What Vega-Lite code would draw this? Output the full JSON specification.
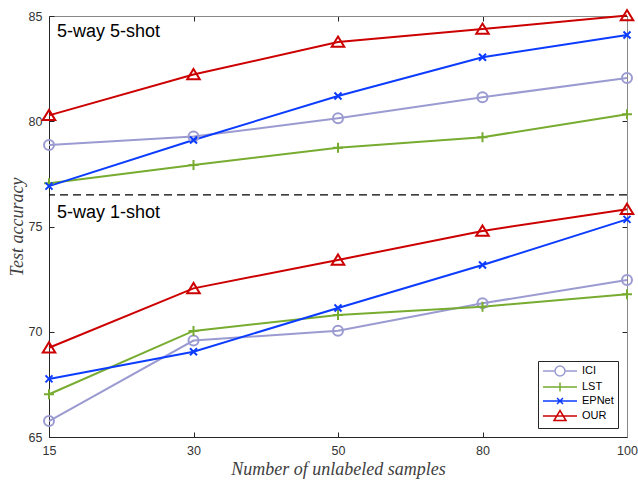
{
  "$schema": "https://vega.github.io/schema/vega-lite/v6.json",
  "autosize": {"type": "none"},
  "width": 578,
  "height": 421,
  "padding": {"left": 49, "top": 16, "right": 11, "bottom": 44},
  "config": {
    "view": {"stroke": "#888888", "strokeWidth": 1},
    "axis": {"grid": false, "labelFont": "Liberation Sans", "labelFontSize": 12.5, "labelColor": "#333333", "domainColor": "#262626", "tickColor": "#262626", "titleFont": "Liberation Serif", "titleFontStyle": "italic", "titleFontWeight": "normal", "titleFontSize": 18, "titleColor": "#404040"},
    "legend": {"orient": "bottom-right", "offset": 9, "strokeColor": "#262626", "fillColor": "#ffffff", "padding": 4, "labelFont": "Liberation Sans", "labelFontSize": 11, "labelColor": "#000000", "symbolSize": 100, "symbolStrokeWidth": 1.5, "symbolOffset": 12, "labelOffset": 16, "rowPadding": 0}
  },
  "datasets": {
    "acc": [
      {"n": 15, "acc": 78.87, "method": "ICI", "setting": "5-shot"},
      {"n": 30, "acc": 79.27, "method": "ICI", "setting": "5-shot"},
      {"n": 50, "acc": 80.14, "method": "ICI", "setting": "5-shot"},
      {"n": 80, "acc": 81.14, "method": "ICI", "setting": "5-shot"},
      {"n": 100, "acc": 82.05, "method": "ICI", "setting": "5-shot"},
      {"n": 15, "acc": 77.05, "method": "LST", "setting": "5-shot"},
      {"n": 30, "acc": 77.92, "method": "LST", "setting": "5-shot"},
      {"n": 50, "acc": 78.74, "method": "LST", "setting": "5-shot"},
      {"n": 80, "acc": 79.24, "method": "LST", "setting": "5-shot"},
      {"n": 100, "acc": 80.33, "method": "LST", "setting": "5-shot"},
      {"n": 15, "acc": 76.92, "method": "EPNet", "setting": "5-shot"},
      {"n": 30, "acc": 79.11, "method": "EPNet", "setting": "5-shot"},
      {"n": 50, "acc": 81.2, "method": "EPNet", "setting": "5-shot"},
      {"n": 80, "acc": 83.04, "method": "EPNet", "setting": "5-shot"},
      {"n": 100, "acc": 84.1, "method": "EPNet", "setting": "5-shot"},
      {"n": 15, "acc": 80.28, "method": "OUR", "setting": "5-shot"},
      {"n": 30, "acc": 82.22, "method": "OUR", "setting": "5-shot"},
      {"n": 50, "acc": 83.76, "method": "OUR", "setting": "5-shot"},
      {"n": 80, "acc": 84.38, "method": "OUR", "setting": "5-shot"},
      {"n": 100, "acc": 85.02, "method": "OUR", "setting": "5-shot"},
      {"n": 15, "acc": 65.76, "method": "ICI", "setting": "1-shot"},
      {"n": 30, "acc": 69.58, "method": "ICI", "setting": "1-shot"},
      {"n": 50, "acc": 70.05, "method": "ICI", "setting": "1-shot"},
      {"n": 80, "acc": 71.35, "method": "ICI", "setting": "1-shot"},
      {"n": 100, "acc": 72.46, "method": "ICI", "setting": "1-shot"},
      {"n": 15, "acc": 67.03, "method": "LST", "setting": "1-shot"},
      {"n": 30, "acc": 70.04, "method": "LST", "setting": "1-shot"},
      {"n": 50, "acc": 70.8, "method": "LST", "setting": "1-shot"},
      {"n": 80, "acc": 71.19, "method": "LST", "setting": "1-shot"},
      {"n": 100, "acc": 71.78, "method": "LST", "setting": "1-shot"},
      {"n": 15, "acc": 67.76, "method": "EPNet", "setting": "1-shot"},
      {"n": 30, "acc": 69.05, "method": "EPNet", "setting": "1-shot"},
      {"n": 50, "acc": 71.13, "method": "EPNet", "setting": "1-shot"},
      {"n": 80, "acc": 73.17, "method": "EPNet", "setting": "1-shot"},
      {"n": 100, "acc": 75.34, "method": "EPNet", "setting": "1-shot"},
      {"n": 15, "acc": 69.24, "method": "OUR", "setting": "1-shot"},
      {"n": 30, "acc": 72.06, "method": "OUR", "setting": "1-shot"},
      {"n": 50, "acc": 73.41, "method": "OUR", "setting": "1-shot"},
      {"n": 80, "acc": 74.79, "method": "OUR", "setting": "1-shot"},
      {"n": 100, "acc": 75.82, "method": "OUR", "setting": "1-shot"}
    ]
  },
  "layer": [
    {
      "data": {"values": [{"acc": 76.5}]},
      "mark": {"type": "rule", "color": "#000000", "strokeWidth": 1.3, "strokeDash": [8, 5]},
      "encoding": {
        "y": {"field": "acc", "type": "quantitative", "axis": null}
      }
    },
    {
      "data": {"name": "acc"},
      "mark": {"type": "line", "strokeWidth": 2},
      "encoding": {
        "x": {"field": "n", "type": "ordinal", "scale": {"type": "point", "padding": 0}, "sort": "ascending",
              "axis": {"title": "Number of unlabeled samples", "labelAngle": 0, "tickSize": -5, "labelPadding": 12, "titlePadding": 4, "orient": "bottom"}},
        "y": {"field": "acc", "type": "quantitative", "scale": {"domain": [65, 85], "nice": false, "zero": false},
              "axis": {"title": "Test accuracy", "values": [65, 70, 75, 80, 85], "tickSize": -5, "labelPadding": 12, "titlePadding": 2, "orient": "left"}},
        "color": {"field": "method", "type": "nominal",
                  "scale": {"domain": ["ICI", "LST", "EPNet", "OUR"], "range": ["#9b9bd2", "#77ac30", "#0c3cff", "#cc0000"]},
                  "legend": {"title": null,
                             "encode": {"symbols": {"update": {
                               "shape": {"signal": "datum.value == 'ICI' ? 'M-3.4,0L-1,0M1,0L3.4,0M-1,0A1,1 0 1,1 1,0A1,1 0 1,1 -1,0' : datum.value == 'LST' ? 'M-3.4,0L3.4,0M0,-0.9L0,0.9' : datum.value == 'EPNet' ? 'M-3.4,0L3.4,0M-0.6,-0.6L0.6,0.6M-0.6,0.6L0.6,-0.6' : 'M-3.4,0L3.4,0M0,-1.1L1.2,0.9L-1.2,0.9Z'"}}}}}},
        "detail": {"field": "setting"}
      }
    },
    {
      "data": {"name": "acc"},
      "transform": [{"filter": {"field": "method", "equal": "ICI"}}],
      "mark": {"type": "point", "filled": false, "strokeWidth": 2, "size": 100, "opacity": 1, "shape": "circle", "color": "#9b9bd2"},
      "encoding": {
        "x": {"field": "n", "type": "ordinal", "sort": "ascending",
              "axis": {"orient": "top", "labels": false, "title": null, "tickSize": -5, "domainColor": "#888888"}},
        "y": {"field": "acc", "type": "quantitative",
              "axis": {"orient": "right", "labels": false, "title": null, "values": [65, 70, 75, 80, 85], "tickSize": -5, "domainColor": "#888888"}}
      }
    },
    {
      "data": {"name": "acc"},
      "transform": [{"filter": {"field": "method", "equal": "LST"}}],
      "mark": {"type": "point", "filled": false, "strokeWidth": 2, "size": 100, "opacity": 1, "shape": "M-1,0L1,0M0,-1L0,1", "color": "#77ac30"},
      "encoding": {
        "x": {"field": "n", "type": "ordinal", "sort": "ascending", "axis": null},
        "y": {"field": "acc", "type": "quantitative", "axis": null}
      }
    },
    {
      "data": {"name": "acc"},
      "transform": [{"filter": {"field": "method", "equal": "EPNet"}}],
      "mark": {"type": "point", "filled": false, "strokeWidth": 2, "size": 100, "opacity": 1, "shape": "M-0.7,-0.7L0.7,0.7M-0.7,0.7L0.7,-0.7", "color": "#0c3cff"},
      "encoding": {
        "x": {"field": "n", "type": "ordinal", "sort": "ascending", "axis": null},
        "y": {"field": "acc", "type": "quantitative", "axis": null}
      }
    },
    {
      "data": {"name": "acc"},
      "transform": [{"filter": {"field": "method", "equal": "OUR"}}],
      "mark": {"type": "point", "filled": false, "strokeWidth": 2, "size": 100, "opacity": 1, "shape": "M0,-1.1L1.25,0.95L-1.25,0.95Z", "color": "#cc0000"},
      "encoding": {
        "x": {"field": "n", "type": "ordinal", "sort": "ascending", "axis": null},
        "y": {"field": "acc", "type": "quantitative", "axis": null}
      }
    },
    {
      "data": {"values": [{"n": 15, "acc": 84.24, "label": "5-way 5-shot"}, {"n": 15, "acc": 75.64, "label": "5-way 1-shot"}]},
      "mark": {"type": "text", "align": "left", "baseline": "middle", "dx": 8, "font": "Liberation Sans", "fontSize": 18, "color": "#000000"},
      "encoding": {
        "x": {"field": "n", "type": "ordinal", "axis": null},
        "y": {"field": "acc", "type": "quantitative", "axis": null},
        "text": {"field": "label"}
      }
    }
  ]
}
